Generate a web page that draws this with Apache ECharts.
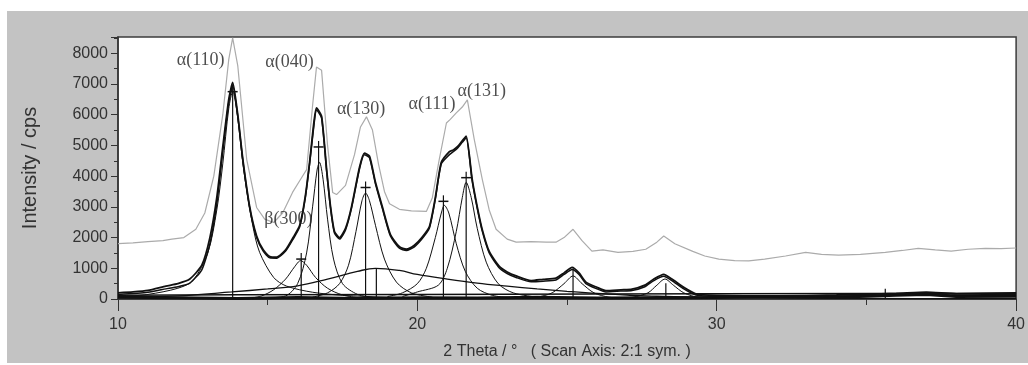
<!DOCTYPE html>
<html>
<head>
<meta charset="utf-8">
<script src="https://cdn.jsdelivr.net/npm/echarts@6/dist/echarts.min.js"></script>
<style>
html,body{margin:0;padding:0;background:#fff;}
#bg{position:absolute;left:7px;top:11px;width:1021px;height:352px;background:#c3c3c3;}
#chart{position:absolute;left:0;top:0;width:1028px;height:365px;}
</style>
</head>
<body>
<div id="bg"></div>
<div id="chart"></div>
<script>
// ---- data ----
const xTicks = [10, 20, 30, 40];
const yTicks = [0, 1000, 2000, 3000, 4000, 5000, 6000, 7000, 8000];

// measured pattern (grey, raw)
const measured = [[10,1800],[10.5,1830],[11,1870],[11.5,1900],[11.8,1950],[12.2,2000],[12.6,2270],[12.9,2800],[13.2,4000],[13.5,6000],[13.7,7800],[13.83,8500],[14.0,7600],[14.3,4540],[14.63,2980],[14.9,2600],[15.2,2490],[15.5,2800],[15.83,3470],[16.1,3900],[16.3,4210],[16.5,6300],[16.63,7550],[16.8,7450],[17.0,5000],[17.17,3470],[17.3,3400],[17.6,3700],[17.9,4700],[18.1,5600],[18.3,5930],[18.5,5500],[18.7,4400],[18.9,3500],[19.07,3100],[19.4,2920],[19.8,2870],[20.3,2850],[20.5,3300],[20.73,4540],[20.97,5730],[21.1,5850],[21.3,6060],[21.5,6250],[21.67,6480],[21.9,5200],[22.17,3890],[22.4,2900],[22.63,2270],[23.0,1950],[23.3,1850],[23.8,1870],[24.3,1850],[24.63,1850],[24.9,2000],[25.2,2270],[25.5,1900],[25.83,1560],[26.2,1600],[26.7,1520],[27.2,1550],[27.63,1620],[28.0,1850],[28.23,2050],[28.6,1800],[29.2,1550],[29.6,1400],[30.07,1300],[30.6,1250],[31.07,1240],[31.6,1300],[32.3,1400],[32.97,1520],[33.5,1450],[34.07,1430],[34.8,1450],[35.63,1520],[36.2,1580],[36.73,1650],[37.3,1600],[37.83,1560],[38.4,1620],[38.97,1650],[39.5,1640],[40,1660]];

// net / fitted sum curves (black, thick)
const fitSum = [[10,200],[10.5,230],[11,280],[11.6,420],[12.0,500],[12.4,650],[12.8,1100],[13.07,2000],[13.3,3300],[13.5,4950],[13.7,6500],[13.83,7050],[14.0,6000],[14.17,4550],[14.4,3000],[14.63,2050],[14.85,1600],[15.07,1380],[15.3,1360],[15.6,1600],[15.85,2000],[16.07,2400],[16.25,3300],[16.4,4450],[16.55,5800],[16.63,6220],[16.8,5950],[16.97,4200],[17.1,3000],[17.23,2200],[17.4,2000],[17.6,2300],[17.8,3000],[18.07,4300],[18.23,4750],[18.4,4650],[18.6,3800],[18.83,3000],[19.1,2100],[19.4,1700],[19.63,1620],[19.9,1750],[20.15,2000],[20.4,2350],[20.6,3300],[20.8,4450],[21.07,4800],[21.2,4850],[21.33,4950],[21.5,5150],[21.63,5300],[21.83,3900],[22.0,3000],[22.17,2250],[22.4,1550],[22.73,1070],[23.0,880],[23.3,750],[23.8,600],[24.2,640],[24.63,680],[24.9,850],[25.17,1030],[25.4,850],[25.63,550],[26.0,380],[26.3,270],[26.8,300],[27.17,320],[27.6,450],[27.9,650],[28.23,800],[28.5,650],[28.9,380],[29.3,170],[30,120],[32,100],[34,130],[36,180],[37,220],[38,170],[40,200]];
const netData = [[10,150],[11,220],[11.6,330],[12.0,400],[12.4,520],[12.8,950],[13.07,1800],[13.3,3100],[13.5,4800],[13.7,6400],[13.83,6950],[14.0,5950],[14.17,4500],[14.4,2950],[14.63,2000],[14.85,1560],[15.07,1340],[15.3,1330],[15.6,1560],[15.85,1950],[16.07,2350],[16.25,3250],[16.4,4400],[16.55,5700],[16.63,6150],[16.8,5900],[16.97,4150],[17.1,2950],[17.23,2150],[17.4,1950],[17.6,2250],[17.8,2950],[18.07,4250],[18.23,4700],[18.4,4600],[18.6,3750],[18.83,2950],[19.1,2050],[19.4,1650],[19.63,1580],[19.9,1700],[20.15,1950],[20.4,2300],[20.6,3250],[20.8,4400],[21.07,4700],[21.2,4800],[21.33,4900],[21.5,5100],[21.63,5250],[21.83,3850],[22.0,2950],[22.17,2200],[22.4,1500],[22.73,1020],[23.0,830],[23.3,700],[23.8,560],[24.2,580],[24.63,620],[24.9,800],[25.17,960],[25.4,800],[25.63,500],[26.0,330],[26.3,230],[26.8,260],[27.17,280],[27.6,400],[27.9,600],[28.23,740],[28.5,600],[28.9,330],[29.3,130],[30,80],[32,70],[34,90],[36,140],[37,170],[38,130],[40,150]];

// single fitted peaks (black, thin)
const peak110 = [[10,60],[11,150],[12,350],[12.5,600],[13.0,1500],[13.3,2900],[13.5,4400],[13.7,6200],[13.83,6750],[14.0,5900],[14.2,4200],[14.5,2400],[14.73,1520],[15.2,700],[15.63,420],[16.5,220],[17.5,120],[19,60],[21,30]];
const peak300 = [[14.5,40],[14.8,100],[15.2,300],[15.6,650],[15.9,1050],[16.1,1250],[16.3,1100],[16.6,700],[17.0,350],[17.5,130],[18.0,50]];
const peak040 = [[15.0,40],[15.6,100],[16.0,500],[16.3,1500],[16.5,3000],[16.65,4200],[16.73,4450],[16.85,3900],[17.0,2600],[17.2,1300],[17.5,500],[18.0,150],[18.5,50]];
const peak130 = [[16.5,60],[17.0,200],[17.4,500],[17.7,1100],[17.95,2200],[18.15,3200],[18.27,3450],[18.4,3200],[18.6,2400],[18.9,1300],[19.3,550],[19.8,200],[20.5,60]];
const peak111 = [[19.0,80],[19.5,200],[20.0,500],[20.3,1000],[20.6,2000],[20.8,2800],[20.9,3050],[21.05,2800],[21.3,1800],[21.6,900],[22.0,350],[22.5,120],[23,50]];
const peak131 = [[19.5,80],[20.0,230],[20.7,450],[21.0,1000],[21.3,2200],[21.5,3300],[21.63,3800],[21.8,3300],[22.0,2300],[22.3,1200],[22.7,500],[23.2,200],[24,60]];
const peak252 = [[23.5,30],[24.0,60],[24.5,200],[24.9,500],[25.2,750],[25.5,500],[25.9,200],[26.4,60],[27,20]];
const peak283 = [[26.5,20],[27.2,60],[27.7,200],[28.0,450],[28.27,650],[28.55,450],[28.9,200],[29.4,50],[30,20]];
const amorphous = [[10,50],[12,100],[13.8,230],[15,330],[16,430],[17,650],[18,900],[18.6,1000],[19.4,930],[20,800],[21,650],[22,520],[23,420],[24,330],[25,250],[26,180],[27,130],[28,90],[30,50],[35,20],[40,10]];
const background = [[10,120],[14,140],[20,150],[26,160],[30,170],[35,180],[40,190]];
const difference = [[10,60],[12,40],[14,20],[16,50],[18,20],[20,40],[22,30],[24,60],[26,30],[28,40],[30,50],[32,80],[34,60],[36,120],[37,150],[38,80],[40,90]];

// peak position sticks: [2theta, height, hasCross]
const sticks = [[13.83,6750,1],[16.12,1300,1],[16.7,4950,1],[18.27,3630,1],[18.63,1000,0],[20.87,3180,1],[21.63,3950,1],[25.2,990,0],[28.3,510,0],[35.63,330,0]];

// reflection labels: [text, 2theta, intensity]
const reflLabels = [['α(110)',12.76,7757],['α(040)',15.73,7692],['α(130)',18.12,6171],['β(300)',15.69,2611],['α(111)',20.49,6333],['α(131)',22.15,6753]];

// ---- chart ----
const chart = echarts.init(document.getElementById('chart'), null, {renderer:'canvas'});
const sansFont = "'Liberation Sans', Arial, sans-serif";
function lineSeries(name, data, color, width, smooth){
  return {name, type:'line', data, showSymbol:false, symbol:'none', smooth: smooth||false,
    lineStyle:{color, width}, z: 3, silent:true, animation:false};
}
const option = {
  backgroundColor:'transparent',
  animation:false,
  grid:{left:118, right:9, top:37, bottom:64, show:true, backgroundColor:'#ffffff', borderColor:'#3c3c3c', borderWidth:1.5},
  xAxis:{type:'value', min:xTicks[0], max:xTicks[xTicks.length-1], interval:10,
    axisLine:{show:true, onZero:false, lineStyle:{color:'#333', width:1.5}},
    axisTick:{show:true, length:12, lineStyle:{color:'#333', width:1}},
    minorTick:{show:true, splitNumber:2, length:6, lineStyle:{color:'#333', width:1}},
    splitLine:{show:false},
    axisLabel:{color:'#333', fontSize:16, fontFamily:sansFont, margin:18},
    name:'2 Theta / °   ( Scan Axis: 2:1 sym. )', nameLocation:'middle', nameGap:45,
    nameTextStyle:{color:'#333', fontSize:16, fontFamily:sansFont}
  },
  yAxis:{type:'value', min:yTicks[0], max:8530, interval:1000,
    axisLine:{show:true, onZero:false, lineStyle:{color:'#333', width:1.5}},
    axisTick:{show:true, length:7, lineStyle:{color:'#333', width:1}},
    minorTick:{show:true, splitNumber:2, length:4, lineStyle:{color:'#333', width:1}},
    splitLine:{show:false},
    axisLabel:{color:'#333', fontSize:16, fontFamily:sansFont, margin:10, showMaxLabel:false,
      formatter:function(v){return yTicks.indexOf(v) >= 0 ? String(v) : '';}},
    name:'Intensity / cps', nameLocation:'middle', nameGap:78, nameRotate:90,
    nameTextStyle:{color:'#333', fontSize:20, fontFamily:sansFont}
  },
  series:[
    lineSeries('measured', measured, '#ababab', 1.2, false),
    lineSeries('amorphous', amorphous, '#111', 1.3, 0.4),
    lineSeries('background', background, '#111', 1.5, false),
    lineSeries('difference', difference, '#111', 3, false),
    lineSeries('peak110', peak110, '#111', 1, 0.3),
    lineSeries('peak300', peak300, '#111', 1, 0.3),
    lineSeries('peak040', peak040, '#111', 1, 0.3),
    lineSeries('peak130', peak130, '#111', 1, 0.3),
    lineSeries('peak111', peak111, '#111', 1, 0.3),
    lineSeries('peak131', peak131, '#111', 1, 0.3),
    lineSeries('peak252', peak252, '#111', 1, 0.3),
    lineSeries('peak283', peak283, '#111', 1, 0.3),
    lineSeries('netData', netData, '#111', 1.5, 0.2),
    lineSeries('fitSum', fitSum, '#111', 1.8, 0.2),
    {type:'custom', name:'sticks', data:sticks, silent:true, z:4, animation:false,
      renderItem:function(params, api){
        const x = api.value(0), h = api.value(1), cross = api.value(2);
        const p0 = api.coord([x, 0]);
        const p1 = api.coord([x, h]);
        const children = [{type:'line', shape:{x1:p0[0], y1:p0[1], x2:p1[0], y2:p1[1] - (cross ? 6 : 0)}, style:{stroke:'#111', lineWidth:1.2}}];
        if (cross) children.push({type:'line', shape:{x1:p1[0]-5, y1:p1[1], x2:p1[0]+5, y2:p1[1]}, style:{stroke:'#111', lineWidth:1.5}});
        return {type:'group', children};
      }
    },
    {type:'scatter', name:'labels', silent:true, z:5, animation:false, symbolSize:0,
      data: reflLabels.map(r => ({name:r[0], value:[r[1], r[2]]})),
      label:{show:true, position:'inside', formatter:'{b}', color:'#222', fontSize:18, fontFamily:"'Liberation Serif', 'Times New Roman', serif"}
    }
  ]
};
chart.setOption(option);
</script>
</body>
</html>
